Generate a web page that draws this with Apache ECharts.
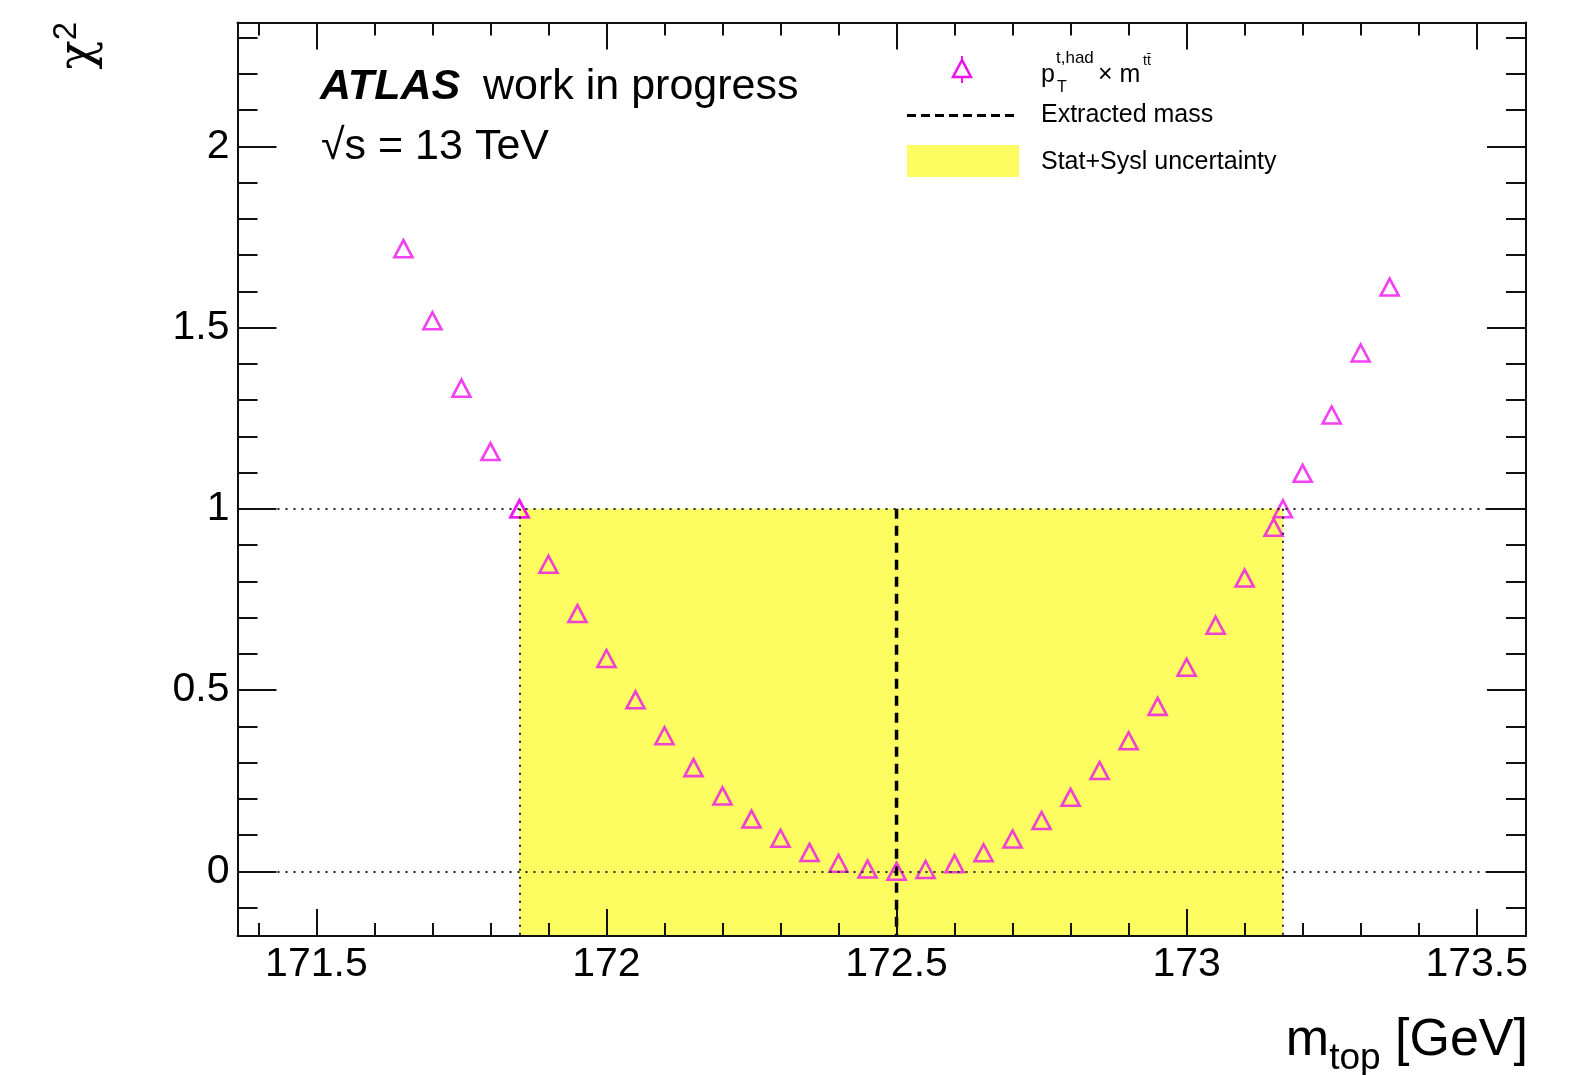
<!DOCTYPE html>
<html>
<head>
<meta charset="utf-8">
<script src="https://cdn.jsdelivr.net/npm/echarts@6/dist/echarts.min.js"></script>
<style>
html,body{margin:0;padding:0;background:#fff;}
#chart{width:1573px;height:1075px;}
</style>
</head>
<body>
<div id="chart"></div>
<script>
// ---- data ----
const mTop = [171.65, 171.70, 171.75, 171.80, 171.85, 171.90, 171.95, 172.00, 172.05, 172.10,
              172.15, 172.20, 172.25, 172.30, 172.35, 172.40, 172.45, 172.50, 172.55, 172.60,
              172.65, 172.70, 172.75, 172.80, 172.85, 172.90, 172.95, 173.00, 173.05, 173.10,
              173.15, 173.20, 173.25, 173.30, 173.35];
const chi2 = [1.718, 1.519, 1.333, 1.158, 1.000, 0.847, 0.711, 0.587, 0.473, 0.374,
              0.286, 0.208, 0.144, 0.091, 0.052, 0.022, 0.006, 0.000, 0.005, 0.021,
              0.051, 0.089, 0.140, 0.204, 0.278, 0.360, 0.455, 0.563, 0.679, 0.809,
              0.949, 1.098, 1.259, 1.430, 1.612];
const intervalEdges = [171.85, 173.166];   // Stat+Syst uncertainty band edges (chi2 = 1 crossings)
const intervalChi2 = [1, 1];
const extractedMass = 172.5;
const xRange = [171.364, 173.585];
const yRange = [-0.1786, 2.342];
const xMajorTicks = [171.5, 172, 172.5, 173, 173.5];
const xTickLabels = ['171.5', '172', '172.5', '173', '173.5'];
const xMinorTicks = [171.4, 171.6, 171.7, 171.8, 171.9, 172.1, 172.2, 172.3, 172.4,
                     172.6, 172.7, 172.8, 172.9, 173.1, 173.2, 173.3, 173.4];
const yMajorTicks = [0, 0.5, 1, 1.5, 2];
const yTickLabels = ['0', '0.5', '1', '1.5', '2'];
const yMinorTicks = [-0.1, 0.1, 0.2, 0.3, 0.4, 0.6, 0.7, 0.8, 0.9, 1.1, 1.2, 1.3, 1.4,
                     1.6, 1.7, 1.8, 1.9, 2.1, 2.2, 2.3];

// ---- styling ----
const FONT = '"Liberation Sans", Arial, Helvetica, sans-serif';
const GREEK = '"DejaVu Serif", "Liberation Serif", serif';
const MAGENTA = '#ee11ee';
const YELLOW = '#fdfd62';
const AXIS = '#111';

function labelFor(ticks, labels) {
  return function (v) {
    const i = ticks.findIndex(t => Math.abs(t - v) < 1e-6);
    return i >= 0 ? labels[i] : '';
  };
}

function xAxisDef(position, ticks, len, withLabels, showLine) {
  return {
    type: 'value', gridIndex: 0, position: position, offset: 0,
    min: xRange[0], max: xRange[1], z: 10,
    axisLine: { show: showLine, onZero: false, lineStyle: { color: AXIS, width: 2 } },
    axisTick: { show: true, inside: true, length: len, customValues: ticks,
                lineStyle: { color: AXIS, width: 2 } },
    axisLabel: withLabels ? {
      show: true, customValues: xMajorTicks, margin: 8,
      formatter: labelFor(xMajorTicks, xTickLabels),
      color: '#000', fontSize: 41, fontFamily: FONT
    } : { show: false },
    splitLine: { show: false }, minorTick: { show: false }, axisPointer: { show: false }
  };
}

function yAxisDef(position, ticks, len, withLabels, showLine) {
  return {
    type: 'value', gridIndex: 0, position: position, offset: 0,
    min: yRange[0], max: yRange[1], z: 10,
    axisLine: { show: showLine, onZero: false, lineStyle: { color: AXIS, width: 2 } },
    axisTick: { show: true, inside: true, length: len, customValues: ticks,
                lineStyle: { color: AXIS, width: 2 } },
    axisLabel: withLabels ? {
      show: true, customValues: yMajorTicks, margin: 8,
      formatter: labelFor(yMajorTicks, yTickLabels),
      color: '#000', fontSize: 41, fontFamily: FONT
    } : { show: false },
    splitLine: { show: false }, minorTick: { show: false }, axisPointer: { show: false }
  };
}

const markerData = mTop.map((m, i) => [m, chi2[i]])
  .concat(intervalEdges.map((m, i) => [m, intervalChi2[i]]));
const bandData = intervalEdges.map((m, i) => [m, intervalChi2[i]]);

const dotted = { color: '#222', width: 2, type: [2, 6] };

const txt = (x, y, text, size, extra) => Object.assign({
  type: 'text', x: x, y: y, silent: true,
  style: Object.assign({ text: text, fontSize: size, fontFamily: FONT, fill: '#000',
                         align: 'left', verticalAlign: 'middle' }, (extra || {}))
});

const option = {
  animation: false,
  backgroundColor: '#fff',
  grid: { left: 237.5, top: 22.5, width: 1288.5, height: 913.5, containLabel: false,
          outerBoundsMode: 'none' },
  xAxis: [
    xAxisDef('bottom', xMajorTicks, 27, true, true),
    xAxisDef('bottom', xMinorTicks, 13, false, false),
    xAxisDef('top', xMajorTicks, 27, false, true),
    xAxisDef('top', xMinorTicks, 13, false, false)
  ],
  yAxis: [
    yAxisDef('left', yMajorTicks, 39, true, true),
    yAxisDef('left', yMinorTicks, 20, false, false),
    yAxisDef('right', yMajorTicks, 39, false, true),
    yAxisDef('right', yMinorTicks, 20, false, false)
  ],
  series: [
    {
      name: 'Stat+Sysl uncertainty', type: 'line', xAxisIndex: 0, yAxisIndex: 0, z: 1,
      data: bandData, symbol: 'none', silent: true,
      lineStyle: { width: 0, opacity: 0 },
      areaStyle: { origin: 'start', color: YELLOW, opacity: 1 },
      markLine: {
        silent: true, symbol: ['none', 'none'], label: { show: false },
        emphasis: { disabled: true }, animation: false,
        lineStyle: dotted,
        data: [
          { yAxis: intervalChi2[0] },
          { yAxis: 0 },
          [{ coord: [intervalEdges[0], intervalChi2[0]] }, { coord: [intervalEdges[0], yRange[0]] }],
          [{ coord: [intervalEdges[1], intervalChi2[1]] }, { coord: [intervalEdges[1], yRange[0]] }]
        ]
      }
    },
    {
      name: 'Extracted mass', type: 'line', xAxisIndex: 0, yAxisIndex: 0, z: 3,
      data: [[extractedMass, intervalChi2[0]], [extractedMass, yRange[0]]],
      symbol: 'none', silent: true,
      lineStyle: { color: '#000', width: 3.5, type: [10, 7] }
    },
    {
      name: 'pT x mtt', type: 'scatter', xAxisIndex: 0, yAxisIndex: 0, z: 4,
      data: markerData, symbol: 'triangle', symbolSize: [18, 17], silent: true,
      itemStyle: { color: 'transparent', borderColor: MAGENTA, borderWidth: 2.6 }
    }
  ],
  graphic: [
    // ATLAS label
    txt(320, 87, 'ATLAS', 43, { fontWeight: 'bold', fontStyle: 'italic' }),
    txt(483, 87, 'work in progress', 43),
    txt(321, 147.5, '√s = 13 TeV', 43),
    // legend: marker entry
    { type: 'line', silent: true, shape: { x1: 962, y1: 56, x2: 962, y2: 60 },
      style: { stroke: MAGENTA, lineWidth: 2 } },
    { type: 'line', silent: true, shape: { x1: 962, y1: 77, x2: 962, y2: 83 },
      style: { stroke: MAGENTA, lineWidth: 2 } },
    { type: 'polygon', silent: true, shape: { points: [[953, 77], [971, 77], [962, 60]] },
      style: { fill: 'none', stroke: MAGENTA, lineWidth: 2.5 } },
    txt(1041, 75.5, 'p', 25),
    txt(1056, 58.8, 't,had', 17),
    txt(1057, 88, 'T', 16),
    txt(1098, 75.5, '× m', 25),
    txt(1143, 61, 'tt̄', 14),
    // legend: extracted mass
    { type: 'line', silent: true, shape: { x1: 907, y1: 115.5, x2: 1018, y2: 115.5 },
      style: { stroke: '#000', lineWidth: 3, lineDash: [9, 5] } },
    txt(1041, 115.5, 'Extracted mass', 25),
    // legend: band
    { type: 'rect', silent: true, shape: { x: 907, y: 145, width: 112, height: 32 },
      style: { fill: YELLOW } },
    txt(1041, 162, 'Stat+Sysl uncertainty', 25),
    // axis titles
    { type: 'text', silent: true, x: 1528, y: 1015,
      style: { text: '{m|m}{s|top}{m| [GeV]}', align: 'right', verticalAlign: 'top',
        rich: {
          m: { fontSize: 52, fontFamily: FONT, fill: '#000', lineHeight: 56, verticalAlign: 'top' },
          s: { fontSize: 37, fontFamily: FONT, fill: '#000', lineHeight: 37, verticalAlign: 'top',
               padding: [25, 0, 0, 0] }
        } } },
    { type: 'text', silent: true, x: 50, y: 22, rotation: Math.PI / 2,
      style: { text: '{c|χ}{s|2}', align: 'right', verticalAlign: 'top',
        rich: {
          c: { fontSize: 48, fontFamily: GREEK, fill: '#000', lineHeight: 48, verticalAlign: 'top',
               padding: [6, 0, 0, 0] },
          s: { fontSize: 33, fontFamily: FONT, fill: '#000', lineHeight: 33, verticalAlign: 'top' }
        } } }
  ]
};

const chart = echarts.init(document.getElementById('chart'), null, { renderer: 'canvas' });
chart.setOption(option);
</script>
</body>
</html>
